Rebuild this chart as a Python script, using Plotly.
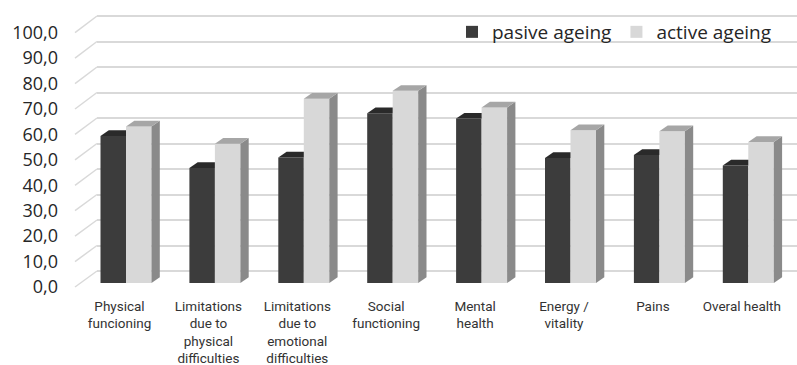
import plotly.graph_objects as go

# ---------------- data ----------------
categories = [
    "Physical<br>funcioning",
    "Limitations<br>due to<br>physical<br>difficulties",
    "Limitations<br>due to<br>emotional<br>difficulties",
    "Social<br>functioning",
    "Mental<br>health",
    "Energy /<br>vitality",
    "Pains",
    "Overal health",
]
pasive_ageing = [57.8, 45.2, 49.3, 66.7, 64.6, 49.1, 50.3, 46.2]
active_ageing = [61.5, 54.7, 72.4, 75.5, 69.0, 60.0, 59.6, 55.4]
series_names = ["pasive ageing", "active ageing"]
y_ticks = list(range(0, 101, 10))

# ---------------- geometry (pixels) ----------------
W, H = 797, 365
BACK_L, BACK_Y0, BACK_Y100 = 97, 271, 16
FRONT_X, FRONT_Y0, FRONT_Y100 = 75, 287, 32.7
BAR_Y0, BAR_Y100 = 283, 28.5
GROUP_X0, GROUP_STEP = 126, 88.9
LABEL_SHIFT = 6.5
BAR_W_PX, DEPTH_DX, DEPTH_DY = 25.5, 8.3, 5.7

GRID = "#d9d9d9"
C_PAS, C_PAS_TOP = "#3c3c3c", "#2a2a2a"
C_ACT, C_ACT_TOP, C_ACT_SIDE = "#d8d8d8", "#a6a6a6", "#8a8a8a"


def fx(px):
    return px / W


def fy(py):
    return (H - py) / H


fig = go.Figure()

# invisible trace so the back-wall subplot (x, y) is drawn with its gridlines
fig.add_trace(go.Scatter(x=[0.5], y=[50], mode="markers", marker=dict(opacity=0),
                         hoverinfo="skip", showlegend=False, xaxis="x", yaxis="y"))

# x-range of category axes (category index units)
x_rng = [-GROUP_X0 / GROUP_STEP, (W - GROUP_X0) / GROUP_STEP]

# back-wall scale (y): padded range so the 0 and 100 gridlines are kept
b_s = (BACK_Y0 - BACK_Y100) / 100.0
y1_rng = [-2, 102]
y1_dom = [fy(BACK_Y0 + 2 * b_s), fy(BACK_Y0 - 102 * b_s)]

# front-plane scale (y2): extended range so diagonals aren't clipped
f_s = (FRONT_Y0 - FRONT_Y100) / 100.0
y2_rng = [-10, 112]
y2_dom = [fy(FRONT_Y0 + 10 * f_s), fy(FRONT_Y0 - 112 * f_s)]


def px_to_x(px):
    return (px - GROUP_X0) / GROUP_STEP


def py_to_y2(py):
    return (FRONT_Y0 - py) / f_s


# ---- side-wall diagonals joining front labels to back-wall gridlines ----
dxs, dys = [], []
for v in y_ticks:
    dxs += [px_to_x(FRONT_X), px_to_x(BACK_L), None]
    dys += [py_to_y2(FRONT_Y0 - v * f_s), py_to_y2(BACK_Y0 - v * b_s), None]
fig.add_trace(go.Scatter(x=dxs, y=dys, mode="lines", line=dict(color=GRID, width=1.5),
                         hoverinfo="skip", showlegend=False, xaxis="x2", yaxis="y2"))

# ---- bars (front faces) ----
w = BAR_W_PX / GROUP_STEP
dx = DEPTH_DX / GROUP_STEP
dy = DEPTH_DY / ((BAR_Y0 - BAR_Y100) / 100.0)
xs = list(range(len(categories)))

fig.add_trace(go.Bar(x=xs, y=pasive_ageing, width=w, offset=-w, name=series_names[0],
                     marker=dict(color=C_PAS, line=dict(width=0)), xaxis="x3", yaxis="y3"))
fig.add_trace(go.Bar(x=xs, y=active_ageing, width=w, offset=0, name=series_names[1],
                     marker=dict(color=C_ACT, line=dict(width=0)), xaxis="x3", yaxis="y3"))


# ---- 3D faces ----
def poly(px, py, color):
    fig.add_trace(go.Scatter(x=px + [px[0]], y=py + [py[0]], mode="lines", fill="toself",
                             fillcolor=color, line=dict(width=0, color=color),
                             hoverinfo="skip", showlegend=False, xaxis="x3", yaxis="y3"))


for i, (p, a) in enumerate(zip(pasive_ageing, active_ageing)):
    # pasive top (cut by the active bar front)
    poly([i - w, i, i, i - w + dx], [p, p, p + dy, p + dy], C_PAS_TOP)
    # active side
    poly([i + w, i + w + dx, i + w + dx, i + w], [0, dy, a + dy, a], C_ACT_SIDE)
    # active top
    poly([i, i + w, i + w + dx, i + dx], [a, a, a + dy, a + dy], C_ACT_TOP)

fig.update_layout(
    width=W, height=H,
    margin=dict(l=0, r=0, t=0, b=0),
    paper_bgcolor="white",
    plot_bgcolor="rgba(0,0,0,0)",
    separators=", ",
    showlegend=True,
    legend=dict(orientation="h", x=fx(452), xanchor="left", y=fy(13), yanchor="top",
                bgcolor="rgba(0,0,0,0)", font=dict(family="Open Sans", size=19, color="#262626"),
                itemclick=False, traceorder="normal"),
    # back wall gridlines
    xaxis=dict(domain=[fx(BACK_L), 1], range=[0, 1], showgrid=False, zeroline=False,
               showline=False, showticklabels=False, ticks="", anchor="y", fixedrange=True),
    yaxis=dict(domain=y1_dom, range=y1_rng, tickmode="array", tickvals=y_ticks,
               showgrid=True, gridcolor=GRID, gridwidth=1.5, zeroline=False,
               showticklabels=False, ticks="", showline=False,
               anchor="x", fixedrange=True),
    # front plane: y tick labels + diagonals
    xaxis2=dict(domain=[0, 1], range=x_rng, visible=False, anchor="y2", fixedrange=True),
    yaxis2=dict(domain=y2_dom, range=y2_rng, anchor="free", position=fx(FRONT_X),
                tickmode="array", tickvals=y_ticks, tickformat=".1f", showgrid=False,
                zeroline=False, showline=False, ticks="", ticklabelstandoff=17,
                tickfont=dict(family="Open Sans", size=18, color="#262626"), fixedrange=True),
    # bar plane
    xaxis3=dict(domain=[0, 1], range=x_rng, anchor="y3", tickmode="array",
                tickvals=[i - LABEL_SHIFT / GROUP_STEP for i in xs], ticktext=categories,
                showgrid=False, zeroline=False, showline=False, ticks="", ticklabelstandoff=13,
                tickfont=dict(family="Roboto", size=13.5, color="#333333"), fixedrange=True),
    yaxis3=dict(domain=[fy(BAR_Y0), fy(BAR_Y100)], range=[0, 100], visible=False,
                anchor="x3", fixedrange=True),
)

fig.write_html("out.html")
